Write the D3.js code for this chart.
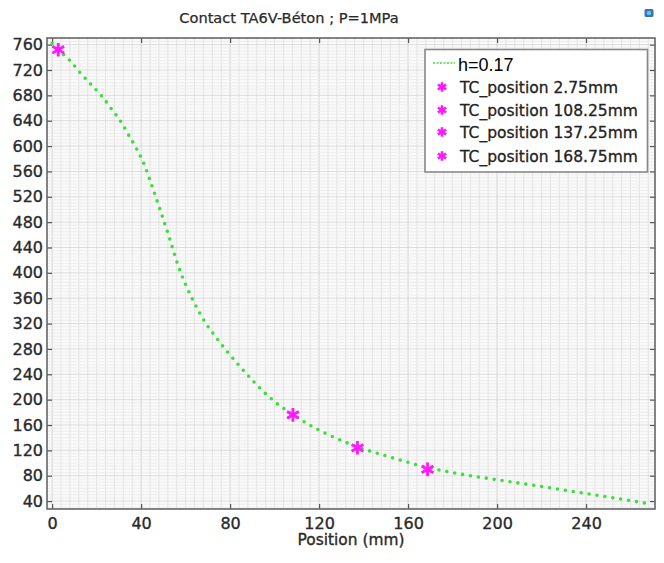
<!DOCTYPE html>
<html><head><meta charset="utf-8">
<script src="https://cdn.jsdelivr.net/npm/d3@7"></script>
<style>html,body{margin:0;padding:0;background:#fff;} svg{display:block;}</style>
</head><body>
<script>
// ---------------- data ----------------
const chartTitle = "Contact TA6V-Béton ; P=1MPa";
const xAxisLabel = "Position (mm)";
const curveName = "h=0.17";
const curveX = [0, 2.75, 8.1, 12.6, 17.8, 22.3, 26.8, 30.9, 34.7, 38.1, 41.5, 44, 48.5, 53, 56.6, 60.2, 64.3, 68.8, 73.3, 78.7, 84.5, 91.2, 99.5, 108.25, 117.5, 127.2, 137.25, 147.7, 157.9, 168.75, 186.1, 200, 220, 246.3, 268.3];
const curveY = [762, 752, 734.6, 715.7, 696, 679, 658, 638.5, 615.6, 595, 570, 546, 500, 452, 412, 380, 350, 322, 300, 276, 252, 226.2, 198.3, 176.5, 156.4, 140, 125.5, 113.8, 103.2, 93, 81.1, 73.6, 63, 48.5, 35.9];
const tcPositions = [2.75, 108.25, 137.25, 168.75];
const tcValues = [752, 176, 124, 90];
const tcNames = ["TC_position 2.75mm", "TC_position 108.25mm", "TC_position 137.25mm", "TC_position 168.75mm"];
const xTicks = [0, 40, 80, 120, 160, 200, 240];
const yTicks = [40, 80, 120, 160, 200, 240, 280, 320, 360, 400, 440, 480, 520, 560, 600, 640, 680, 720, 760];

// ---------------- layout ----------------
const W = 664, H = 563;
const L = 47, R = 655, T = 38, B = 509;
const FONT = "'DejaVu Sans', Verdana, sans-serif";
const green = "#3ae03a", magenta = "#ff19ff";

const svg = d3.select("body").append("svg").attr("width", W).attr("height", H);
svg.append("rect").attr("width", W).attr("height", H).attr("fill", "#fff");

const x = d3.scaleLinear().domain([-2.3, 271]).range([L, R]);
const y = d3.scaleLinear().domain([27.5, 770.5]).range([B, T]);

// plot background
svg.append("rect").attr("x", L).attr("y", T).attr("width", R - L).attr("height", B - T).attr("fill", "#fafafa");

// grid
const grid = svg.append("g");
const vMinor = d3.range(0, 271, 4);
const hMinor = d3.range(30, 771, 5);
grid.selectAll("line.v").data(vMinor).join("line")
  .attr("x1", d => x(d)).attr("x2", d => x(d)).attr("y1", T).attr("y2", B)
  .attr("stroke", d => d % 40 === 0 ? "#d2d2d2" : "#e3e3e3").attr("stroke-width", 1);
grid.selectAll("line.h").data(hMinor).join("line")
  .attr("x1", L).attr("x2", R).attr("y1", d => y(d)).attr("y2", d => y(d))
  .attr("stroke", d => d % 40 === 0 ? "#d6d6d6" : "#eaeaea").attr("stroke-width", 0.8);

// axes (inward ticks on all four sides)
const tickLen = 5;
const bottomAxis = d3.axisBottom(x).tickValues(xTicks).tickSize(-tickLen).tickPadding(8);
const topAxis = d3.axisTop(x).tickValues(xTicks).tickSize(-tickLen).tickFormat("");
const leftAxis = d3.axisLeft(y).tickValues(yTicks).tickSize(-tickLen).tickPadding(4);
const rightAxis = d3.axisRight(y).tickValues(yTicks).tickSize(-tickLen).tickFormat("");

function styleAxis(g) {
  g.select(".domain").remove();
  g.selectAll(".tick line").attr("stroke", "#555").attr("stroke-width", 1.2);
  g.selectAll(".tick text").attr("fill", "#2a2a2a").attr("font-family", FONT).attr("font-size", 16)
    .attr("stroke", "#2a2a2a").attr("stroke-width", 0.35);
}
svg.append("g").attr("transform", `translate(0,${B})`).call(bottomAxis).call(styleAxis)
  .selectAll(".tick text").attr("dy", "0.72em");
svg.append("g").attr("transform", `translate(0,${T})`).call(topAxis).call(styleAxis);
svg.append("g").attr("transform", `translate(${L},0)`).call(leftAxis).call(styleAxis);
svg.append("g").attr("transform", `translate(${R},0)`).call(rightAxis).call(styleAxis);

// frame
svg.append("rect").attr("x", L).attr("y", T).attr("width", R - L).attr("height", B - T)
  .attr("fill", "none").attr("stroke", "#666").attr("stroke-width", 1.6);

// curve
const pts = curveX.map((d, i) => [d, curveY[i]]);
const line = d3.line().x(d => x(d[0])).y(d => y(d[1])).curve(d3.curveMonotoneX);
svg.append("path").attr("d", line(pts)).attr("fill", "none")
  .attr("stroke", green).attr("stroke-width", 3.6).attr("stroke-linecap", "round")
  .attr("stroke-dasharray", "0 8");

// asterisk markers
const astType = d3.symbolAsterisk || d3.symbolCross;
const star = d3.symbol().type(astType).size(130);
const starSmall = d3.symbol().type(astType).size(65);
svg.append("g").selectAll("path").data(tcPositions).join("path")
  .attr("transform", (d, i) => `translate(${x(d)},${y(tcValues[i])})`)
  .attr("d", star).attr("fill", "none").attr("stroke", magenta).attr("stroke-width", 2.8);

// legend
const lg = svg.append("g");
lg.append("rect").attr("x", 425).attr("y", 49.5).attr("width", 222.5).attr("height", 122.5)
  .attr("fill", "#fff").attr("stroke", "#888").attr("stroke-width", 1.6);
lg.append("line").attr("x1", 433).attr("x2", 455).attr("y1", 63).attr("y2", 63)
  .attr("stroke", green).attr("stroke-width", 1.6).attr("stroke-dasharray", "2 1.5");
lg.append("text").attr("x", 458).attr("y", 71).text(curveName)
  .attr("font-family", "'Liberation Sans', Arial, sans-serif").attr("font-size", 18).attr("fill", "#000");
const rowsY = [87, 110, 132, 156];
tcNames.forEach((n, i) => {
  lg.append("path").attr("transform", `translate(442,${rowsY[i]})`).attr("d", starSmall)
    .attr("fill", "none").attr("stroke", magenta).attr("stroke-width", 2.6);
  lg.append("text").attr("x", 460).attr("y", rowsY[i] + 5.5).text(n)
    .attr("font-family", FONT).attr("font-size", 15.5).attr("fill", "#222")
    .attr("stroke", "#222").attr("stroke-width", 0.3);
});

// title & axis label
svg.append("text").attr("x", 289).attr("y", 23).attr("text-anchor", "middle").text(chartTitle)
  .attr("font-family", FONT).attr("font-size", 14.6).attr("fill", "#2a2a2a")
  .attr("stroke", "#2a2a2a").attr("stroke-width", 0.25);
svg.append("text").attr("x", (L + R) / 2).attr("y", 545).attr("text-anchor", "middle").text(xAxisLabel)
  .attr("font-family", FONT).attr("font-size", 15.4).attr("fill", "#2a2a2a")
  .attr("stroke", "#2a2a2a").attr("stroke-width", 0.35);

// small icon top-right
svg.append("rect").attr("x", 644.5).attr("y", 9).attr("width", 9).attr("height", 8).attr("rx", 1.5)
  .attr("fill", "#3b73c4");
svg.append("rect").attr("x", 647).attr("y", 11).attr("width", 4).attr("height", 4).attr("rx", 1)
  .attr("fill", "#62c9d6");
</script>
</body></html>
